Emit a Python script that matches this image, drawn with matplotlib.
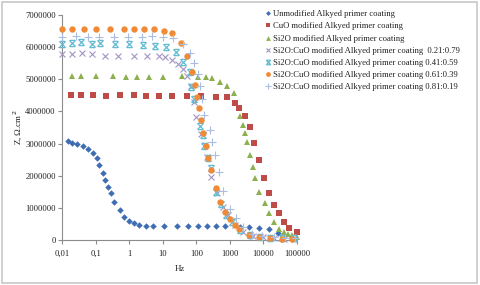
import matplotlib
matplotlib.use("Agg")
import matplotlib.pyplot as plt
from matplotlib.path import Path
from matplotlib.patches import Rectangle
from matplotlib.ticker import FixedLocator, FixedFormatter

# ---------------- data ----------------
x_ticks = [0.01, 0.1, 1, 10, 100, 1000, 10000, 100000]
x_tick_labels = ["0,01", "0,1", "1", "10", "100", "1000", "10000", "100000"]
y_ticks = [0, 1000000, 2000000, 3000000, 4000000, 5000000, 6000000, 7000000]

labels = [
    "Unmodified Alkyed primer coating",
    "CuO modified Alkyed primer coating",
    "Si2O modified Alkyed primer coating",
    "Si2O:CuO modified Alkyed primer coating  0.21:0.79",
    "Si2O:CuO modified Alkyed primer coating 0.41:0.59",
    "Si2O:CuO modified Alkyed primer coating 0.61:0.39",
    "Si2O:CuO modified Alkyed primer coating 0.81:0.19",
]

f_unmod = [0.0148, 0.020, 0.028, 0.041, 0.058, 0.083, 0.107, 0.126, 0.17, 0.195, 0.235, 0.29, 0.36,
           0.53, 0.71, 1.0, 1.4, 2.0, 3.2, 5.0, 10.7, 27, 55, 109, 204, 390, 740, 2000, 3800,
           7300, 14500, 27500]
z_unmod = [3.08, 3.03, 2.98, 2.93, 2.83, 2.70, 2.54, 2.34, 2.10, 1.87, 1.66, 1.47, 1.19,
           0.93, 0.73, 0.59, 0.52, 0.47, 0.44, 0.44, 0.43, 0.43, 0.43, 0.43, 0.43, 0.43, 0.43,
           0.40, 0.41, 0.38, 0.33, 0.21]

f_cuo = [0.0186, 0.038, 0.083, 0.20, 0.52, 1.35, 3.2, 7.6, 19, 53, 137, 390, 810, 1450, 1900,
         2900, 3900, 5400, 7600, 10200, 14500, 20500, 29000, 41000, 59000, 100000]
z_cuo = [4.52, 4.50, 4.50, 4.48, 4.50, 4.50, 4.48, 4.48, 4.48, 4.48, 4.48, 4.45, 4.45, 4.25,
         4.10, 3.87, 3.51, 3.03, 2.49, 1.92, 1.45, 1.09, 0.83, 0.55, 0.38, 0.24]

f_si2o = [0.02, 0.038, 0.105, 0.32, 0.8, 1.7, 4.0, 10, 38, 110, 195, 300, 510, 850, 1300, 2000,
          2450, 2800, 3250, 3900, 4800, 5800, 7600, 11000, 14500, 20500, 29000, 41000, 54000,
          72000, 100000]
z_si2o = [5.11, 5.11, 5.11, 5.11, 5.08, 5.08, 5.08, 5.08, 5.11, 5.08, 5.08, 5.04, 4.93, 4.80,
          4.56, 3.87, 3.57, 3.32, 3.04, 2.65, 2.28, 1.92, 1.50, 1.14, 0.83, 0.55, 0.34, 0.24,
          0.20, 0.16, 0.10]

f_021 = [0.01, 0.02, 0.04, 0.076, 0.19, 0.48, 1.4, 3.4, 7.6, 11.5, 19, 29.5, 40, 54, 72, 86, 100,
         138, 178, 210, 270, 405, 620, 910, 1450, 2500, 5000, 10000, 20000, 40000, 80000]
z_021 = [5.79, 5.79, 5.82, 5.79, 5.73, 5.73, 5.73, 5.73, 5.71, 5.69, 5.61, 5.47, 5.32, 5.11,
         4.80, 4.28, 3.84, 3.30, 2.96, 2.58, 1.95, 1.45, 1.04, 0.78, 0.47, 0.25, 0.12, 0.08,
         0.05, 0.04, 0.03]

f_041 = [0.01, 0.02, 0.038, 0.08, 0.14, 0.38, 1.0, 2.5, 6.0, 12.5, 25, 40, 63, 72, 84, 126, 155,
         170, 225, 270, 390, 540, 760, 1170, 2000, 4000, 8000, 16000, 35000, 80000]
z_041 = [6.11, 6.13, 6.15, 6.11, 6.13, 6.10, 6.10, 6.07, 6.05, 6.00, 5.85, 5.55, 5.24, 4.76,
         4.38, 3.55, 3.27, 2.91, 2.54, 2.23, 1.50, 1.12, 0.78, 0.57, 0.30, 0.15, 0.10, 0.07,
         0.05, 0.05]

f_061 = [0.01, 0.02, 0.045, 0.1, 0.27, 0.71, 1.4, 2.8, 5.6, 10.7, 19, 36, 53, 73, 89, 105, 120,
         137, 160, 195, 225, 270, 380, 510, 720, 990, 1400, 1900, 3800, 7300, 16000, 35000, 72000]
z_061 = [6.57, 6.57, 6.55, 6.57, 6.55, 6.55, 6.55, 6.55, 6.55, 6.51, 6.44, 6.13, 5.74, 5.24,
         4.83, 4.46, 4.12, 3.74, 3.32, 2.93, 2.56, 2.18, 1.61, 1.19, 0.88, 0.64, 0.47, 0.33,
         0.16, 0.08, 0.05, 0.03, 0.03]

f_081 = [0.01, 0.027, 0.06, 0.126, 0.36, 0.9, 2.4, 4.8, 10, 20, 40, 67, 86, 109, 125, 145, 175,
         255, 290, 360, 460, 620, 980, 1560, 2500, 4500, 9000, 20000, 45000, 90000]
z_081 = [6.31, 6.35, 6.33, 6.33, 6.31, 6.33, 6.31, 6.35, 6.31, 6.28, 6.11, 5.82, 5.50, 5.16,
         4.78, 4.38, 3.89, 3.43, 3.06, 2.65, 2.13, 1.54, 0.97, 0.68, 0.40, 0.20, 0.12, 0.08,
         0.05, 0.05]

freqs = [f_unmod, f_cuo, f_si2o, f_021, f_041, f_061, f_081]
zvals = [z_unmod, z_cuo, z_si2o, z_021, z_041, z_061, z_081]

# ---------------- style ----------------
plt.rcParams['font.family'] = ['Liberation Serif', 'DejaVu Serif']

star = Path([(-1, -1), (1, 1), (-1, 1), (1, -1), (-0.8, 1), (0.8, 1), (-0.8, -1), (0.8, -1)],
            [Path.MOVETO, Path.LINETO, Path.MOVETO, Path.LINETO,
             Path.MOVETO, Path.LINETO, Path.MOVETO, Path.LINETO])

styles = [
    dict(marker='D', color='#3F6DB3', ms=3.3, mew=0),
    dict(marker='s', color='#BE4B48', ms=4.2, mew=0),
    dict(marker='^', color='#8DB04E', ms=4.6, mew=0),
    dict(marker='x', color='#A594C4', ms=4.5, mew=0.8),
    dict(marker=star, color='#63BCD2', ms=4.5, mew=0.9),
    dict(marker='o', color='#F08A36', ms=4.6, mew=0),
    dict(marker='+', color='#A9BEE2', ms=5.5, mew=0.8),
]

fig = plt.figure(figsize=(4.8, 2.85), dpi=100)
fig.patches.append(Rectangle((0.004, 0.008), 0.99, 0.985, transform=fig.transFigure,
                             fill=False, edgecolor='#C8C8C8', linewidth=1.2))
ax = fig.add_axes([62 / 480, 1 - 240 / 285, (297 - 62) / 480, (240 - 15) / 285])

for f, z, lab, st in zip(freqs, zvals, labels, styles):
    ax.plot(f, [v * 1e6 for v in z], linestyle='none', marker=st['marker'],
            color=st['color'], markersize=st['ms'], markeredgewidth=st['mew'],
            label=lab, clip_on=False, zorder=3)

ax.set_xscale('log')
ax.set_xlim(0.01, 100000)
ax.set_ylim(0, 7000000)
ax.xaxis.set_major_locator(FixedLocator(x_ticks))
ax.xaxis.set_major_formatter(FixedFormatter(x_tick_labels))
ax.xaxis.set_minor_locator(FixedLocator([]))
ax.yaxis.set_major_locator(FixedLocator(y_ticks))
ax.yaxis.set_major_formatter(FixedFormatter([str(v) for v in y_ticks]))

for s in ['top', 'right']:
    ax.spines[s].set_visible(False)
for s in ['left', 'bottom']:
    ax.spines[s].set_color('#8C8C8C')
    ax.spines[s].set_linewidth(0.8)
ax.tick_params(axis='both', direction='out', length=3, width=0.8, color='#8C8C8C',
               labelsize=6.2, labelcolor='#222222', pad=2)
ax.tick_params(axis='x', pad=4)
ax.tick_params(axis='y', pad=1.5)

ax.set_xlabel('Hz', fontsize=6.5, color='#222222', labelpad=5)
ax.set_ylabel('Z, Ω.cm$^{2}$', fontsize=6.5, color='#222222', labelpad=1)

leg = ax.legend(loc='upper left', bbox_to_anchor=(262 / 480, 1 - 6 / 285),
                bbox_transform=fig.transFigure, frameon=False, fontsize=6.2,
                handlelength=0.5, handletextpad=0.3, labelspacing=0.48,
                borderpad=0, markerscale=0.75)
for t in leg.get_texts():
    t.set_color('#222222')

fig.savefig('out.png', dpi=100)
